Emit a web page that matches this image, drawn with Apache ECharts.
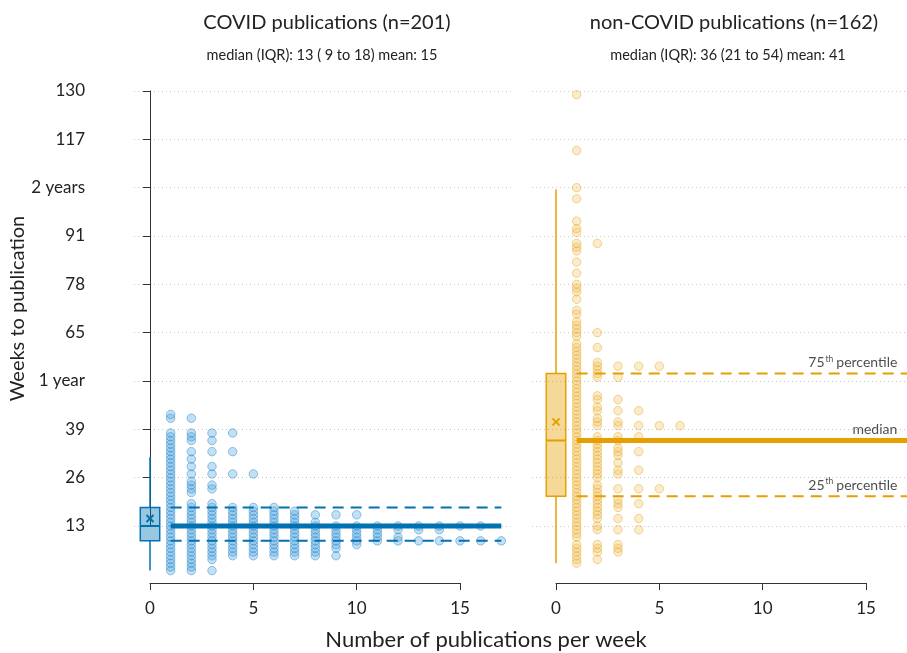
<!DOCTYPE html>
<html>
<head>
<meta charset="utf-8">
<script src="https://cdn.jsdelivr.net/npm/echarts@6/dist/echarts.min.js"></script>
<style>
html,body{margin:0;padding:0;background:#fff;}
#main{width:907px;height:653px;}
</style>
</head>
<body>
<div id="main"></div>
<script>
// weeks to publication and how many publications share that week
var covidWeek  = [1,2,3,4,5,6,7,8,9,10,11,12,13,14,15,16,17,18,19,20,21,22,23,24,25,26,27,28,29,30,31,32,33,34,35,36,37,38,42,43];
var covidCount = [3,2,2,3,9,8,9,10,17,12,11,14,16,8,7,10,7,6,3,1,1,2,3,3,2,1,5,1,3,1,2,1,4,1,1,3,2,4,2,1];

var otherWeek  = [3,4,5,6,7,8,10,11,12,13,14,15,16,17,18,19,20,21,22,23,24,25,26,27,28,29,30,31,32,33,34,35,36,37,38,39,40,41,42,43,44,45,46,47,48,49,50,51,52,53,54,55,56,57,58,59,60,61,62,64,65,66,67,68,70,71,74,76,77,78,81,84,87,88,89,92,93,95,101,104,114,129];
var otherCount = [1,2,1,3,3,3,1,1,4,2,1,4,2,2,3,4,3,2,2,5,2,1,2,3,4,2,3,2,3,4,3,2,3,4,1,1,6,3,2,1,4,2,1,3,2,1,1,1,1,3,2,2,5,2,1,1,1,2,1,1,2,1,1,1,1,1,1,1,1,1,1,1,1,1,2,1,1,1,1,1,1,1];

// box: [x, whisker low, q1, median, q3, whisker high, mean]
var covidBox = [0, 1, 9, 13, 18, 31.5, 15];
var otherBox = [0, 3, 21, 36, 54, 103.5, 41];

var yTicks = [13,26,39,52,65,78,91,104,117,130];
var yTickLabels = ['13','26','39','1 year','65','78','91','2 years','117','130'];
var lineFrom = 1, lineTo = 17;

var FONT = 'Lato';
var BLUE = '#0072B2', ORANGE = '#E69F00';

function dots(weeks, counts){
	var out = [];
	for (var i = 0; i < weeks.length; i++) {
		for (var k = 1; k <= counts[i]; k++) {
			out.push([k, weeks[i]]);
		}
	}
	return out;
}

function boxRender(color, fill){
	return function(params, api){
		var x = api.value(0), hw = 0.47;
		var lo = api.coord([x, api.value(1)]);
		var q1 = api.coord([x, api.value(2)]);
		var md = api.coord([x, api.value(3)]);
		var q3 = api.coord([x, api.value(4)]);
		var hi = api.coord([x, api.value(5)]);
		var mn = api.coord([x, api.value(6)]);
		var left = api.coord([x - hw, 0])[0], right = api.coord([x + hw, 0])[0];
		var st = {stroke: color, lineWidth: 1.5};
		return {type: 'group', children: [
			{type: 'line', shape: {x1: lo[0], y1: lo[1], x2: q1[0], y2: q1[1]}, style: st},
			{type: 'line', shape: {x1: q3[0], y1: q3[1], x2: hi[0], y2: hi[1]}, style: st},
			{type: 'rect', shape: {x: left, y: q3[1], width: right - left, height: q1[1] - q3[1]},
				style: {fill: fill, stroke: color, lineWidth: 1.5}},
			{type: 'line', shape: {x1: left, y1: md[1], x2: right, y2: md[1]}, style: {stroke: color, lineWidth: 2}},
			{type: 'line', shape: {x1: mn[0] - 3.5, y1: mn[1] - 3.5, x2: mn[0] + 3.5, y2: mn[1] + 3.5}, style: {stroke: color, lineWidth: 2}},
			{type: 'line', shape: {x1: mn[0] - 3.5, y1: mn[1] + 3.5, x2: mn[0] + 3.5, y2: mn[1] - 3.5}, style: {stroke: color, lineWidth: 2}}
		]};
	};
}

// horizontal reference line from lineFrom to lineTo at height y
function hline(gi, y, color, width, dash){
	return {
		type: 'custom', xAxisIndex: gi, yAxisIndex: gi, clip: false, silent: true, z: 4,
		data: [[lineFrom, lineTo, y]],
		renderItem: function(params, api){
			var a = api.coord([api.value(0), api.value(2)]);
			var b = api.coord([api.value(1), api.value(2)]);
			return {type: 'line', shape: {x1: a[0], y1: a[1], x2: b[0], y2: b[1]},
				style: {stroke: color, lineWidth: width, lineDash: dash || null, lineCap: 'butt'}};
		}
	};
}

function splitAxis(gi){
	return {
		gridIndex: gi, type: 'value', min: 13, max: 130, interval: 13,
		axisLine: {show: false}, axisTick: {show: false}, axisLabel: {show: false},
		splitLine: {show: true, lineStyle: {color: '#c8c8c8', type: [1, 3], width: 1}}
	};
}

function tickAxis(gi){
	return {
		gridIndex: gi, type: 'value', min: 0, max: 15, interval: 5, offset: 57,
		axisLine: {show: true, lineStyle: {color: '#333', width: 1}},
		axisTick: {show: true, length: 7, lineStyle: {color: '#333'}},
		axisLabel: {fontSize: 17, color: '#222', fontFamily: FONT, margin: 17},
		splitLine: {show: false}
	};
}

var pctLabelRich = {
	n: {fontSize: 14, color: '#222', fontFamily: FONT},
	s: {fontSize: 8.5, color: '#222', fontFamily: FONT, verticalAlign: 'top', padding: [0, 3, 7, 1]}
};

var chart = echarts.init(document.getElementById('main'));
chart.setOption({
	animation: false,
	backgroundColor: '#fff',
	title: [
		{text: 'COVID publications (n=201)', left: 322, top: 8, textAlign: 'center',
			textStyle: {fontSize: 20, fontWeight: 'normal', fontFamily: FONT, color: '#222'}},
		{text: 'median (IQR): 13 ( 9 to 18) mean: 15', left: 317, top: 43, textAlign: 'center',
			textStyle: {fontSize: 14.5, fontWeight: 'normal', fontFamily: FONT, color: '#222'}},
		{text: 'non-COVID publications (n=162)', left: 729, top: 8, textAlign: 'center',
			textStyle: {fontSize: 20, fontWeight: 'normal', fontFamily: FONT, color: '#222'}},
		{text: 'median (IQR): 36 (21 to 54) mean: 41', left: 723, top: 43, textAlign: 'center',
			textStyle: {fontSize: 14.5, fontWeight: 'normal', fontFamily: FONT, color: '#222'}},
		{text: 'Number of publications per week', left: 481, top: 624, textAlign: 'center',
			textStyle: {fontSize: 22, fontWeight: 'normal', fontFamily: FONT, color: '#222'}}
	],
	grid: [
		{left: 134, width: 377, top: 91, height: 435},
		{left: 150, width: 310, top: 91, height: 435},
		{left: 532, width: 375, top: 91, height: 435},
		{left: 556, width: 310, top: 91, height: 435}
	],
	xAxis: [
		{gridIndex: 0, type: 'value', min: 0, max: 1, show: false},
		tickAxis(1),
		{gridIndex: 2, type: 'value', min: 0, max: 1, show: false},
		tickAxis(3)
	],
	yAxis: [
		splitAxis(0),
		{
			gridIndex: 1, type: 'value', min: 13, max: 130, interval: 13, offset: 53,
			name: 'Weeks to publication', nameLocation: 'middle', nameGap: 66,
			nameTextStyle: {fontSize: 20, color: '#222', fontFamily: FONT},
			axisLine: {show: true, lineStyle: {color: '#333', width: 1}},
			axisTick: {show: true, length: 7, lineStyle: {color: '#333'}},
			axisLabel: {fontSize: 17, color: '#222', fontFamily: FONT, margin: 12,
				formatter: function(v){ var i = yTicks.indexOf(v); return i < 0 ? '' : yTickLabels[i]; }},
			splitLine: {show: false}
		},
		splitAxis(2),
		{gridIndex: 3, type: 'value', min: 13, max: 130, show: false}
	],
	series: [
		{
			type: 'scatter', xAxisIndex: 1, yAxisIndex: 1, clip: false, silent: true, z: 2,
			symbolSize: 8.5, data: dots(covidWeek, covidCount),
			itemStyle: {color: 'rgba(86,170,225,0.45)', borderColor: 'rgba(30,125,195,0.55)', borderWidth: 1}
		},
		hline(1, covidBox[2], BLUE, 2, [11, 7]),
		hline(1, covidBox[4], BLUE, 2, [11, 7]),
		hline(1, covidBox[3], BLUE, 5),
		{
			type: 'custom', xAxisIndex: 1, yAxisIndex: 1, clip: false, silent: true, z: 5,
			renderItem: boxRender(BLUE, 'rgba(0,114,178,0.4)'), data: [covidBox]
		},
		{
			type: 'scatter', xAxisIndex: 3, yAxisIndex: 3, clip: false, silent: true, z: 2,
			symbolSize: 8.5, data: dots(otherWeek, otherCount),
			itemStyle: {color: 'rgba(240,190,90,0.38)', borderColor: 'rgba(230,159,0,0.5)', borderWidth: 1}
		},
		hline(3, otherBox[2], ORANGE, 2, [11, 7]),
		hline(3, otherBox[4], ORANGE, 2, [11, 7]),
		hline(3, otherBox[3], ORANGE, 5),
		{
			type: 'custom', xAxisIndex: 3, yAxisIndex: 3, clip: false, silent: true, z: 5,
			renderItem: boxRender(ORANGE, 'rgba(230,159,0,0.4)'), data: [otherBox]
		},
		{
			type: 'scatter', xAxisIndex: 3, yAxisIndex: 3, clip: false, silent: true, z: 6,
			symbolSize: 0,
			data: [
				{value: [lineTo, otherBox[4]], label: {formatter: '{n|75}{s|th}{n|percentile}'}},
				{value: [lineTo, otherBox[3]], label: {formatter: '{n|median}'}},
				{value: [lineTo, otherBox[2]], label: {formatter: '{n|25}{s|th}{n|percentile}'}}
			],
			label: {show: true, position: 'left', distance: 10, offset: [0, -11], rich: pctLabelRich}
		}
	]
});
</script>
</body>
</html>
